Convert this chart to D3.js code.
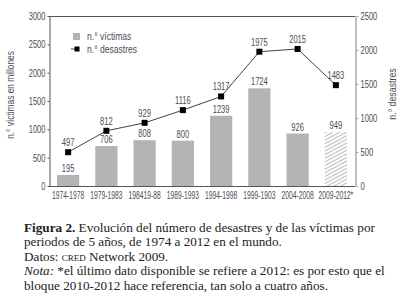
<!DOCTYPE html>
<html>
<head>
<meta charset="utf-8">
<script src="https://cdn.jsdelivr.net/npm/d3@7"></script>
<style>
  body { margin: 0; background: #fff; }
  svg { display: block; }
  .narrow { font-family: "Liberation Sans", Arial, sans-serif; fill: #4a4d55; }
  .caption { font-family: "Liberation Serif", "DejaVu Serif", serif; font-size: 13.2px; fill: #222; }
</style>
</head>
<body>
<div id="container"></div>
<script>
const periods = ['1974-1978', '1979-1983', '198419-88', '1989-1993', '1994-1998', '1999-1903', '2004-2008', '2009-2012*'];
const victims = [195, 706, 808, 800, 1239, 1724, 926, 949];
const disasters = [497, 812, 929, 1116, 1317, 1975, 2015, 1483];
const leftTicks = [0, 500, 1000, 1500, 2000, 2500, 3000];
const rightTicks = [0, 500, 1000, 1500, 2000, 2500];
const captionLines = [
    [{ t: 'Figura 2.', w: 'bold' }, { t: ' Evolución del número de desastres y de las víctimas por' }],
    [{ t: 'periodos de 5 años, de 1974 a 2012 en el mundo.' }],
    [{ t: 'Datos: ' }, { t: 'cred', sc: true }, { t: ' Network 2009.' }],
    [{ t: 'Nota:', i: true }, { t: ' *el último dato disponible se refiere a 2012: es por esto que el' }],
    [{ t: 'bloque 2010-2012 hace referencia, tan solo a cuatro años.' }]
];

const w = 402;
const h = 299;
const plotLeft = 49, plotRight = 355, plotTop = 16, plotBottom = 186;

// the chart uses a condensed face; squeeze the regular one horizontally
const condense = (sel, factor) => {
    sel.each(function () {
        const el = d3.select(this);
        const x = +el.attr('x') || 0;
        const y = +el.attr('y') || 0;
        const prev = el.attr('transform') || '';
        el.attr('x', 0).attr('y', 0)
            .attr('transform', `${prev} translate(${x},${y}) scale(${factor},1)`);
    });
};

const svg = d3.select('#container').append('svg')
    .attr('width', w)
    .attr('height', h);

// hatch for the last (partial) period
const defs = svg.append('defs');
defs.append('pattern')
    .attr('id', 'hatch')
    .attr('patternUnits', 'userSpaceOnUse')
    .attr('width', 3.2)
    .attr('height', 3.2)
    .attr('patternTransform', 'rotate(-28)')
    .append('line')
    .attr('x1', 0).attr('y1', 1)
    .attr('x2', 3.2).attr('y2', 1)
    .attr('stroke', '#999')
    .attr('stroke-width', 0.7);

const xScale = d3.scaleBand()
    .domain(periods)
    .range([plotLeft, plotRight])
    .paddingInner(0.42)
    .paddingOuter(0.21);

const yLeft = d3.scaleLinear().domain([0, 3000]).range([plotBottom, plotTop]);
const yRight = d3.scaleLinear().domain([0, 2500]).range([plotBottom, plotTop]);

// bars
svg.selectAll('.bar')
    .data(victims)
    .enter()
    .append('rect')
    .attr('class', 'bar')
    .attr('x', (d, i) => xScale(periods[i]))
    .attr('y', d => yLeft(d))
    .attr('width', xScale.bandwidth())
    .attr('height', d => plotBottom - yLeft(d))
    .attr('fill', (d, i) => i === periods.length - 1 ? 'url(#hatch)' : '#b3b3b3');

svg.selectAll('.bar-label')
    .data(victims)
    .enter()
    .append('text')
    .attr('class', 'narrow')
    .attr('x', (d, i) => xScale(periods[i]) + xScale.bandwidth() / 2)
    .attr('y', d => yLeft(d) - 3)
    .attr('text-anchor', 'middle')
    .attr('font-size', '10.5px')
    .text(d => d)
    .call(condense, 0.72);

// frame
svg.append('line')
    .attr('x1', plotLeft).attr('x2', plotRight)
    .attr('y1', plotTop + 0.5).attr('y2', plotTop + 0.5)
    .attr('stroke', '#555');

// axes
const xAxis = d3.axisBottom(xScale).tickSize(0).tickPadding(6);
const gx = svg.append('g')
    .attr('transform', 'translate(0,' + plotBottom + ')')
    .call(xAxis);
gx.select('.domain').attr('stroke', '#555').attr('d', `M${plotLeft},0.5H${plotRight}`);
gx.selectAll('text')
    .attr('class', 'narrow')
    .attr('font-size', '10.5px')
    .call(condense, 0.64);

const yAxisL = d3.axisLeft(yLeft).tickValues(leftTicks).tickFormat(d3.format('d'))
    .tickSize(2).tickPadding(2).tickSizeOuter(0);
const gl = svg.append('g')
    .attr('transform', 'translate(' + (plotLeft + 0.5) + ',0)')
    .call(yAxisL);
gl.select('.domain').attr('stroke', '#555');
gl.selectAll('line').attr('stroke', '#555');
gl.selectAll('text').attr('class', 'narrow').attr('font-size', '10.5px').call(condense, 0.72);

const yAxisR = d3.axisRight(yRight).tickValues(rightTicks).tickFormat(d3.format('d'))
    .tickSize(3).tickPadding(2).tickSizeOuter(0);
const gr = svg.append('g')
    .attr('transform', 'translate(' + (plotRight + 0.5) + ',0)')
    .call(yAxisR);
gr.select('.domain').attr('stroke', '#aaa').attr('stroke-width', 1.5);
gr.selectAll('line').attr('stroke', '#aaa');
gr.selectAll('text').attr('class', 'narrow').attr('font-size', '10.5px').call(condense, 0.72);

// axis titles
svg.append('text')
    .attr('class', 'narrow')
    .attr('transform', 'translate(14,95) rotate(-90)')
    .attr('text-anchor', 'middle')
    .attr('font-size', '11px')
    .text('n.° víctimas en millones')
    .call(condense, 0.76);

svg.append('text')
    .attr('class', 'narrow')
    .attr('transform', 'translate(396,94) rotate(-90)')
    .attr('text-anchor', 'middle')
    .attr('font-size', '11px')
    .text('n.° desastres')
    .call(condense, 0.8);

// disasters line
const line = d3.line()
    .x((d, i) => xScale(periods[i]) + xScale.bandwidth() / 2)
    .y(d => yRight(d));

svg.append('path')
    .datum(disasters)
    .attr('d', line)
    .attr('fill', 'none')
    .attr('stroke', '#111')
    .attr('stroke-width', 0.8);

svg.selectAll('.point')
    .data(disasters)
    .enter()
    .append('rect')
    .attr('x', (d, i) => xScale(periods[i]) + xScale.bandwidth() / 2 - 3)
    .attr('y', d => yRight(d) - 3)
    .attr('width', 6)
    .attr('height', 6)
    .attr('fill', '#000');

svg.selectAll('.point-label')
    .data(disasters)
    .enter()
    .append('text')
    .attr('class', 'narrow')
    .attr('x', (d, i) => xScale(periods[i]) + xScale.bandwidth() / 2)
    .attr('y', d => yRight(d) - 6)
    .attr('text-anchor', 'middle')
    .attr('font-size', '10.5px')
    .text(d => d)
    .call(condense, 0.72);

// legend
const legend = svg.append('g').attr('transform', 'translate(73,33)');
legend.append('rect')
    .attr('width', 7).attr('height', 7)
    .attr('fill', '#b3b3b3');
legend.append('text')
    .attr('class', 'narrow')
    .attr('x', 14).attr('y', 6.5)
    .attr('font-size', '11px')
    .text('n.° víctimas')
    .call(condense, 0.78);
legend.append('line')
    .attr('x1', -2).attr('x2', 6)
    .attr('y1', 16).attr('y2', 16)
    .attr('stroke', '#111').attr('stroke-width', 0.8);
legend.append('rect')
    .attr('x', 1.5).attr('y', 13.5)
    .attr('width', 5).attr('height', 5)
    .attr('fill', '#000');
legend.append('text')
    .attr('class', 'narrow')
    .attr('x', 14).attr('y', 19.5)
    .attr('font-size', '11px')
    .text('n.° desastres')
    .call(condense, 0.78);

// caption
const caption = svg.append('g').attr('class', 'caption');
captionLines.forEach((parts, i) => {
    const t = caption.append('text')
        .attr('x', 24)
        .attr('y', 232 + i * 14.4);
    parts.forEach(p => {
        t.append('tspan')
            .attr('font-weight', p.w || null)
            .attr('font-style', p.i ? 'italic' : null)
            .attr('font-variant', p.sc ? 'small-caps' : null)
            .text(p.t);
    });
});
</script>
</body>
</html>
